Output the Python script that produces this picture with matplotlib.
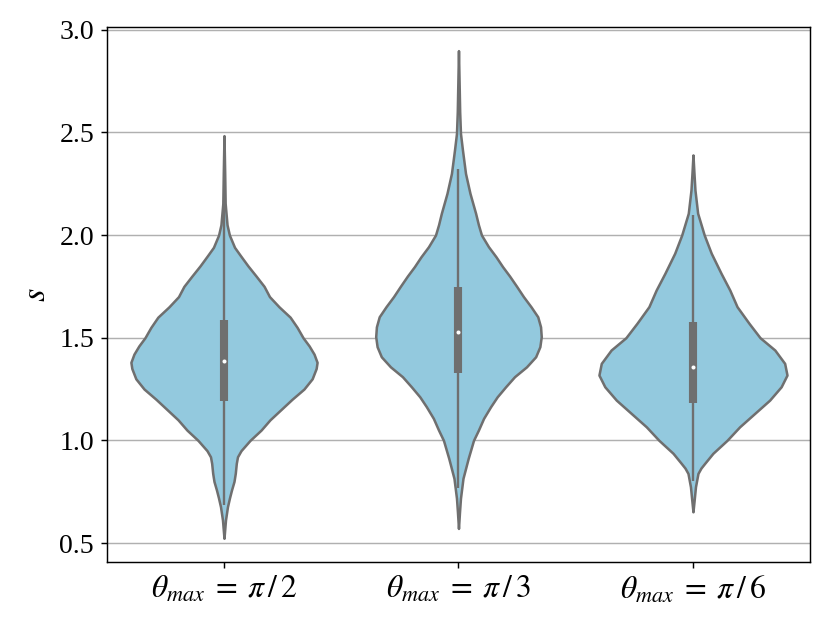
import numpy as np
import matplotlib
matplotlib.use('Agg')
import matplotlib.pyplot as plt

plt.rcParams['font.family'] = ['Liberation Serif', 'DejaVu Serif']
plt.rcParams['mathtext.fontset'] = 'stix'
plt.rcParams['font.size'] = 15.4

fill = '#93c9de'
gray = '#6f6f6f'

labels = [r'$\theta_{max} \;=\; \pi\,/\,2$', r'$\theta_{max} \;=\; \pi\,/\,3$', r'$\theta_{max} \;=\; \pi\,/\,6$']

# violin outlines: s level and half width (in category units)
s_pi2 = [0.523, 0.57, 0.612, 0.677, 0.72, 0.758, 0.80, 0.84, 0.888, 0.92, 0.95, 1.0,
         1.05, 1.1, 1.15, 1.2, 1.25, 1.3, 1.35, 1.38, 1.42, 1.46, 1.5, 1.55, 1.6, 1.65,
         1.70, 1.75, 1.80, 1.85, 1.90, 1.94, 2.0, 2.05, 2.154, 2.3, 2.484]
w_pi2 = [0.0, 0.0034, 0.0064, 0.0149, 0.0235, 0.032, 0.0427, 0.0482, 0.0525, 0.0576, 0.0726, 0.111,
         0.158, 0.196, 0.243, 0.290, 0.341, 0.376, 0.393, 0.397, 0.384, 0.363, 0.337, 0.312, 0.282, 0.235,
         0.194, 0.171, 0.137, 0.102, 0.070, 0.045, 0.023, 0.013, 0.005, 0.003, 0.0]

s_pi3 = [0.571, 0.65, 0.718, 0.815, 0.912, 1.0, 1.05, 1.107, 1.164, 1.212, 1.261, 1.310,
         1.358, 1.407, 1.456, 1.505, 1.553, 1.602, 1.651, 1.700, 1.75, 1.80, 1.846, 1.894,
         1.943, 2.0, 2.05, 2.106, 2.203, 2.30, 2.414, 2.495, 2.60, 2.70, 2.898]
w_pi3 = [0.0, 0.0043, 0.0085, 0.0192, 0.0414, 0.064, 0.085, 0.107, 0.137, 0.165, 0.201, 0.239,
         0.290, 0.329, 0.347, 0.353, 0.350, 0.338, 0.309, 0.277, 0.248, 0.218, 0.188, 0.160,
         0.128, 0.098, 0.085, 0.073, 0.049, 0.030, 0.017, 0.0085, 0.0051, 0.0034, 0.0]

s_pi6 = [0.652, 0.70, 0.774, 0.839, 0.865, 0.888, 0.937, 1.0, 1.066, 1.131, 1.196, 1.261,
         1.318, 1.375, 1.44, 1.5, 1.570, 1.651, 1.732, 1.813, 1.911, 2.0, 2.106, 2.219,
         2.30, 2.390]
w_pi6 = [0.0, 0.0043, 0.0107, 0.0213, 0.034, 0.050, 0.085, 0.145, 0.199, 0.263, 0.327, 0.376,
         0.401, 0.391, 0.349, 0.286, 0.239, 0.188, 0.157, 0.120, 0.078, 0.048, 0.020, 0.0085,
         0.0043, 0.0]

# box stats: lower whisker, q1, median, q3, upper whisker
whisk_lo = [0.685, 0.769, 0.80]
q1 = [1.193, 1.326, 1.180]
median = [1.386, 1.529, 1.357]
q3 = [1.586, 1.748, 1.575]
whisk_hi = [2.17, 2.320, 2.097]

levels = [s_pi2, s_pi3, s_pi6]
widths = [w_pi2, w_pi3, w_pi6]

fig = plt.figure(figsize=(6.385, 4.7925), dpi=130)
ax = fig.add_axes([0.1286, 0.0979, 0.9761 - 0.1286, 0.9571 - 0.0979])

for i in range(3):
    s = np.array(levels[i])
    w = np.array(widths[i])
    ax.fill_betweenx(s, i - w, i + w, facecolor=fill, edgecolor=gray, linewidth=1.4,
                     joinstyle='round', zorder=2)
    ax.plot([i, i], [whisk_lo[i], whisk_hi[i]], color=gray, linewidth=1.3, solid_capstyle='butt', zorder=3)
    ax.plot([i, i], [q1[i], q3[i]], color=gray, linewidth=4.5, solid_capstyle='butt', zorder=3)
    ax.scatter([i], [median[i]], s=5, color='white', zorder=4, linewidth=0)

ax.set_xlim(-0.5, 2.5)
ax.set_ylim(0.4075, 3.0146)
ax.set_xticks(range(3))
ax.set_xticklabels(labels, fontsize=17.5)
ax.set_yticks([0.5, 1.0, 1.5, 2.0, 2.5, 3.0])
ax.set_ylabel(r'$s$', fontsize=19)
ax.yaxis.grid(True, color='#b0b0b0', linewidth=0.8)
ax.set_axisbelow(True)

fig.savefig('out.png', dpi=130)
